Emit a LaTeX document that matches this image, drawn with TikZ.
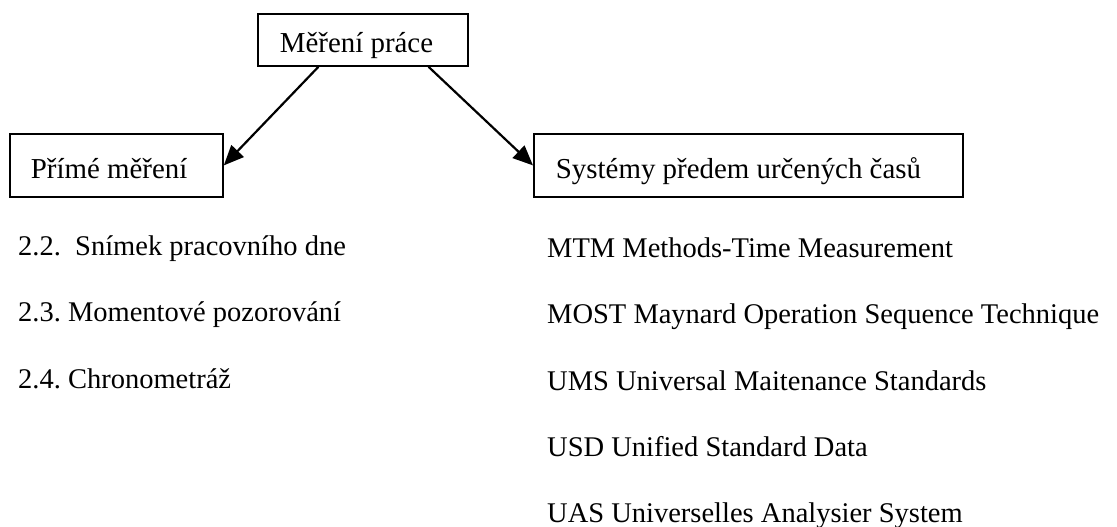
\documentclass[tikz,border=0pt]{standalone}
\usepackage{fontspec}
\setmainfont{Liberation Serif}
\usetikzlibrary{arrows.meta,calc}
\frenchspacing
\begin{document}
\begin{tikzpicture}[x=1pt,y=-1pt,
  font=\fontsize{28.5}{34}\selectfont,
  box/.style={draw,line width=1.8pt,anchor=north west,inner ysep=0pt,font=\fontsize{28.9}{34}\selectfont},
  item/.style={anchor=base west,inner sep=0pt},
  arr/.style={line width=2.2pt,-{Triangle[length=20pt,width=17pt]}}]
\useasboundingbox (0,0) rectangle (1117,527);
\node[box,inner xsep=22pt,text height=39pt,text depth=13pt] (top) at (257,13) {\makebox[166pt][l]{Měření práce}};
\node[box,inner xsep=21pt,text height=45pt,text depth=18pt] (left) at (9,133) {\makebox[171pt][l]{Přímé měření}};
\node[box,inner xsep=22pt,text height=45pt,text depth=18pt] (right) at (533,133) {\makebox[385pt][l]{Systémy předem určených časů}};
\draw[arr] ($(top.south west)!0.29!(top.south east)$) -- (left.east);
\draw[arr] ($(top.south west)!0.81!(top.south east)$) -- (right.west);
\node[item] (l1) at (18,255) {2.2.\ \ Snímek pracovního dne};
\node[item] (l2) at (18,321.5) {2.3. Momentové pozorování};
\node[item] (l3) at (18,388) {2.4. Chronometráž};
\node[item] (r1) at (547,257) {MTM Methods-Time Measurement};
\node[item] (r2) at (547,323.5) {MOST Maynard Operation Sequence Technique};
\node[item] (r3) at (547,390) {UMS Universal Maitenance Standards};
\node[item] (r4) at (547,456.5) {USD Unified Standard Data};
\node[item] (r5) at (547,522) {UAS Universelles Analysier System};
\end{tikzpicture}
\end{document}
